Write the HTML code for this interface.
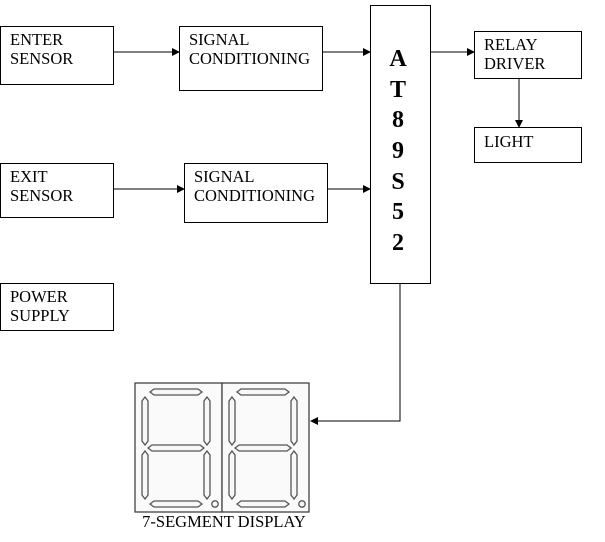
<!DOCTYPE html>
<html><head><meta charset="utf-8"><style>
html,body{margin:0;padding:0;background:#fff;}
svg{display:block;}
text{font-family:"Liberation Serif",serif;fill:#000;}
</style></head><body>
<svg width="605" height="542" viewBox="0 0 605 542" xmlns="http://www.w3.org/2000/svg">
<defs>
<marker id="a" markerWidth="8" markerHeight="8" refX="7" refY="4" orient="auto" markerUnits="userSpaceOnUse">
<path d="M0,0 L8,4 L0,8 z" fill="#000"/></marker>
<g id="dig">
<rect x="0" y="0" width="87" height="129" fill="#fafafa" stroke="#333" stroke-width="1.2"/>
<g fill="#f8f8f8" stroke="#555" stroke-width="1.3">
<path d="M15,9 l4,-3 h44 l4,3 l-4,3 h-44 z"/>
<path d="M13,65 l4,-3 h48 l4,3 l-4,3 h-48 z"/>
<path d="M15,121 l4,-3 h44 l4,3 l-4,3 h-44 z"/>
<path d="M10,14 l3,4 v40 l-3,4 l-3,-4 v-40 z"/>
<path d="M72,14 l3,4 v40 l-3,4 l-3,-4 v-40 z"/>
<path d="M10,68 l3,4 v40 l-3,4 l-3,-4 v-40 z"/>
<path d="M72,68 l3,4 v40 l-3,4 l-3,-4 v-40 z"/>
<circle cx="80" cy="121" r="3.2"/>
</g>
</g>
</defs>
<g fill="none" stroke="#000" stroke-width="1">
<rect x="0.5" y="26.5" width="113" height="58"/>
<rect x="179.5" y="26.5" width="143" height="64"/>
<rect x="370.5" y="5.5" width="60" height="278"/>
<rect x="474.5" y="31.5" width="107" height="47"/>
<rect x="474.5" y="127.5" width="107" height="35"/>
<rect x="0.5" y="163.5" width="113" height="54"/>
<rect x="184.5" y="163.5" width="143" height="59"/>
<rect x="0.5" y="283.5" width="113" height="47"/>
<line x1="114" y1="52" x2="179" y2="52" marker-end="url(#a)"/>
<line x1="323" y1="52" x2="370" y2="52" marker-end="url(#a)"/>
<line x1="431" y1="52" x2="474" y2="52" marker-end="url(#a)"/>
<line x1="519" y1="79" x2="519" y2="127" marker-end="url(#a)"/>
<line x1="114" y1="189" x2="184" y2="189" marker-end="url(#a)"/>
<line x1="328" y1="189" x2="370" y2="189" marker-end="url(#a)"/>
<polyline points="400,284 400,421 311,421" marker-end="url(#a)"/>
</g>
<use href="#dig" x="135" y="383"/>
<use href="#dig" x="222" y="383"/>
<g font-size="16.5">
<text x="10" y="45">ENTER</text><text x="10" y="64">SENSOR</text>
<text x="189" y="45">SIGNAL</text><text x="189" y="64">CONDITIONING</text>
<text x="484" y="50">RELAY</text><text x="484" y="69">DRIVER</text>
<text x="484" y="147">LIGHT</text>
<text x="10" y="182">EXIT</text><text x="10" y="201">SENSOR</text>
<text x="194" y="182">SIGNAL</text><text x="194" y="201">CONDITIONING</text>
<text x="10" y="302">POWER</text><text x="10" y="321">SUPPLY</text>
<text x="224" y="527" text-anchor="middle">7-SEGMENT DISPLAY</text>
</g>
<g font-size="24" font-weight="bold" text-anchor="middle">
<text x="398" y="66">A</text>
<text x="398" y="97">T</text>
<text x="398" y="127">8</text>
<text x="398" y="158">9</text>
<text x="398" y="189">S</text>
<text x="398" y="219">5</text>
<text x="398" y="250">2</text>
</g>
</svg>
</body></html>
